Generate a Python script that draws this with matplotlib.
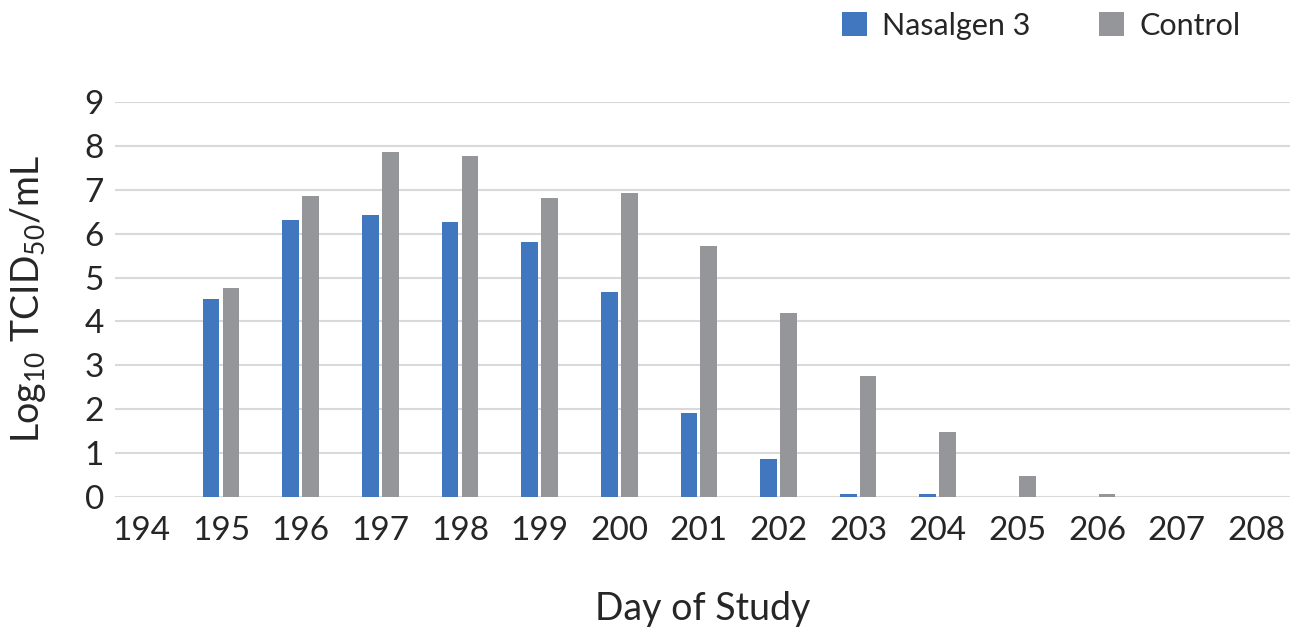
import numpy as np
import matplotlib
matplotlib.use("Agg")
import matplotlib.pyplot as plt

# values
days = ["194", "195", "196", "197", "198", "199", "200", "201",
        "202", "203", "204", "205", "206", "207", "208"]
nasalgen = [0, 4.51, 6.31, 6.42, 6.26, 5.82, 4.66, 1.91,
            0.86, 0.06, 0.06, 0, 0, 0, 0]
control = [0, 4.76, 6.85, 7.86, 7.77, 6.81, 6.92, 5.73,
           4.20, 2.76, 1.48, 0.47, 0.06, 0, 0]

blue = "#4177bf"
grey = "#95969a"
text_col = "#262626"

plt.rcParams.update({
    "font.family": ["Lato", "DejaVu Sans"],
    "font.weight": "normal",
    "mathtext.default": "regular",
    "text.color": text_col,
    "axes.labelcolor": text_col,
    "xtick.color": text_col,
    "ytick.color": text_col,
})

fig = plt.figure(figsize=(12.98, 6.35), dpi=100)
ax = fig.add_axes([0.0886, 0.2173, 0.905, 0.6221])

x = np.arange(len(days))
w = 0.21
ax.bar(x - 0.125, nasalgen, w, color=blue, label="Nasalgen 3", zorder=3)
ax.bar(x + 0.125, control, w, color=grey, label="Control", zorder=3)

ax.set_xlim(-0.332, 14.42)
ax.set_ylim(0, 9)
ax.set_yticks(range(10))
ax.set_xticks(x)
ax.set_xticklabels(days)
ax.tick_params(axis="both", length=0, labelsize=24)
ax.tick_params(axis="x", pad=14)
ax.tick_params(axis="y", pad=8)

ax.yaxis.grid(True, color="#d9d9d9", linewidth=1.5, zorder=0)
for s in ax.spines.values():
    s.set_visible(False)

ax.set_xlabel("Day of Study", fontsize=27, labelpad=32)
ax.set_ylabel("Log$_{10}$ TCID$_{50}$/mL", fontsize=27, labelpad=26)

leg = fig.legend(loc="upper right", bbox_to_anchor=(0.9766, 1.025), ncol=2,
                 frameon=False, fontsize=22, handlelength=0.8,
                 handleheight=0.8, columnspacing=2.25, handletextpad=0.5)

fig.savefig("out.png", dpi=100)
